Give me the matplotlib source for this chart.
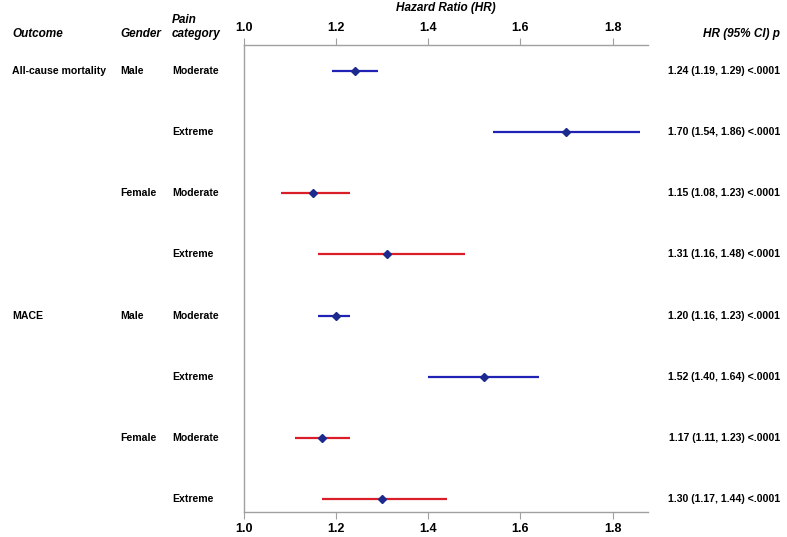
"""Forest plot of hazard ratios by outcome, gender and pain category."""

import matplotlib
matplotlib.use('Agg')
import matplotlib.pyplot as plt
import matplotlib.transforms as mtransforms

plt.rcParams['font.family'] = ['Liberation Sans', 'DejaVu Sans']

# data
outcomes = ['All-cause mortality', '', '', '', 'MACE', '', '', '']
genders = ['Male', '', 'Female', '', 'Male', '', 'Female', '']
pain = ['Moderate', 'Extreme'] * 4
hr = [1.24, 1.70, 1.15, 1.31, 1.20, 1.52, 1.17, 1.30]
lo = [1.19, 1.54, 1.08, 1.16, 1.16, 1.40, 1.11, 1.17]
hi = [1.29, 1.86, 1.23, 1.48, 1.23, 1.64, 1.23, 1.44]
pvals = ['<.0001'] * 8
sex = ['M', 'M', 'F', 'F', 'M', 'M', 'F', 'F']
xticks = [1.0, 1.2, 1.4, 1.6, 1.8]

W, H = 787, 537
fig = plt.figure(figsize=(W / 100, H / 100), dpi=100)
ax = fig.add_axes([244 / W, 1 - 512 / H, 404 / W, (512 - 45) / H])

line_col = {'M': '#1f22b4', 'F': '#d91e2a'}
mark_col = '#1b2a8c'
rows = list(range(len(hr)))

for i in rows:
    ax.plot([lo[i], hi[i]], [i, i], color=line_col[sex[i]], lw=1.6,
            solid_capstyle='butt', zorder=2)
    ax.plot(hr[i], i, marker='D', ms=4, color=mark_col, zorder=3)

ax.set_xlim(1.0, 1.877)
ax.set_ylim(7.21, -0.425)
ax.set_yticks([])
ax.set_xticks(xticks)
ax.set_xticklabels(['{:.1f}'.format(t) for t in xticks])
ax.tick_params(axis='x', top=True, labeltop=True, direction='out', length=5,
               color='#a0a0a0', labelsize=9, pad=3)
for lab in ax.get_xticklabels():
    lab.set_fontweight('bold')
ax.spines['right'].set_visible(False)
for s in ['left', 'top', 'bottom']:
    ax.spines[s].set_color('#a0a0a0')
    ax.spines[s].set_linewidth(1.0)

# text columns
tr = mtransforms.blended_transform_factory(fig.transFigure, ax.transData)
row_kw = dict(transform=tr, fontsize=7.6, fontweight='bold', va='center')
for i in rows:
    ax.text(12 / W, i, outcomes[i], ha='left', **row_kw)
    ax.text(120 / W, i, genders[i], ha='left', **row_kw)
    ax.text(172 / W, i, pain[i], ha='left', **row_kw)
    txt = '{:.2f} ({:.2f}, {:.2f}) {}'.format(hr[i], lo[i], hi[i], pvals[i])
    ax.text(780 / W, i, txt, ha='right', **row_kw)

hdr = dict(fontsize=8.5, fontweight='bold', fontstyle='italic', va='center')
fig.text(12 / W, 1 - 34 / H, 'Outcome', ha='left', **hdr)
fig.text(120 / W, 1 - 34 / H, 'Gender', ha='left', **hdr)
fig.text(172 / W, 1 - 20 / H, 'Pain', ha='left', **hdr)
fig.text(172 / W, 1 - 34 / H, 'category', ha='left', **hdr)
fig.text(780 / W, 1 - 34 / H, 'HR (95% CI) p', ha='right', **hdr)
fig.text(446 / W, 1 - 8 / H, 'Hazard Ratio (HR)', ha='center', **hdr)

fig.savefig('out.png', dpi=100)
